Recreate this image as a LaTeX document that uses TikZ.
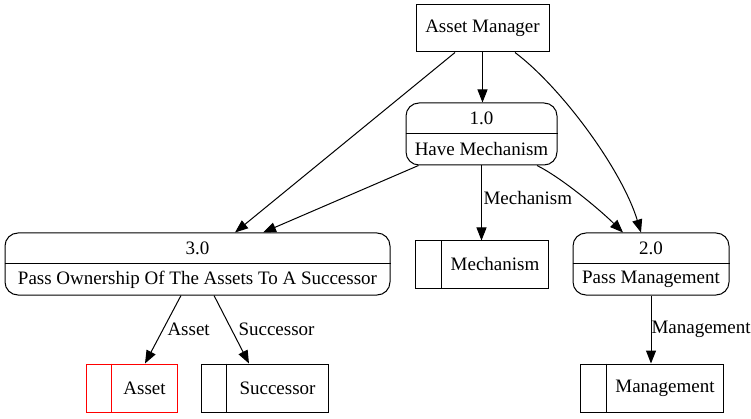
\documentclass[tikz,border=0pt]{standalone}
\usepackage{fontspec}
\setmainfont{Liberation Serif}
\usetikzlibrary{arrows.meta}
\begin{document}
\begin{tikzpicture}[x=1pt,y=-1pt,
  font=\fontsize{19}{22}\selectfont, line width=1pt,
  entity/.style={draw, rectangle, inner sep=0pt},
  proc/.style={draw, rounded corners=13pt, inner sep=0pt},
  store/.style={draw, rectangle, inner sep=0pt, minimum height=47pt},
  txt/.style={inner sep=0pt},
  lbl/.style={inner sep=0pt, anchor=west},
  flow/.style={-{Triangle[length=13pt,width=10pt]}}]
\useasboundingbox (0,0) rectangle (751,419);

% external entity
\node[entity, minimum width=133pt, minimum height=47pt] (am) at (482.5,28.5) {Asset Manager};

% processes
\node[proc, minimum width=151pt, minimum height=62pt] (p1) at (481.5,134) {};
\draw (p1.west) -- (p1.east);
\node[txt] (p1a) at (481.5,118.5) {1.0};
\node[txt] (p1b) at (481.5,149.5) {Have Mechanism};

\node[proc, minimum width=385pt, minimum height=62pt] (p3) at (197.5,264) {};
\draw (p3.west) -- (p3.east);
\node[txt] (p3a) at (197.5,248.5) {3.0};
\node[txt] (p3b) at (197.5,279.5) {Pass Ownership Of The Assets To A Successor};

\node[proc, minimum width=156pt, minimum height=62pt] (p2) at (651,264) {};
\draw (p2.west) -- (p2.east);
\node[txt] (p2a) at (651,248.5) {2.0};
\node[txt] (p2b) at (651,279.5) {Pass Management};

% data stores
\node[store, minimum width=133pt] (sm) at (481.5,264.5) {};
\draw ([xshift=27pt]sm.north west) -- ([xshift=27pt]sm.south west);
\node[txt] (smt) at (495,264.5) {Mechanism};

\node[store, minimum width=143pt, minimum height=48pt] (sg) at (651.5,388) {};
\draw ([xshift=27pt]sg.north west) -- ([xshift=27pt]sg.south west);
\node[txt] (sgt) at (665,388) {Management};

\node[store, draw=red, minimum width=91pt, minimum height=48pt] (sa) at (131.5,388) {};
\draw[red] ([xshift=26pt]sa.north west) -- ([xshift=26pt]sa.south west);
\node[txt] (sat) at (144.5,388) {Asset};

\node[store, minimum width=127pt, minimum height=48pt] (ss) at (264.5,388) {};
\draw ([xshift=26pt]ss.north west) -- ([xshift=26pt]ss.south west);
\node[txt] (sst) at (277.5,388) {Successor};

% flows
\draw[flow] (am.south) -- (am.south |- p1.north);
\draw[flow] ([xshift=-27.5pt]am.south) -- ([xshift=37.5pt]p3.north);
\draw[flow] ([xshift=32.5pt]am.south) .. controls (562,88) and (622,170) .. ([xshift=-10pt]p2.north);
\draw[flow] ([xshift=-63pt]p1.south) -- ([xshift=65.5pt]p3.north);
\draw[flow] (p1.south) -- (sm.north);
\node[lbl] (lm) at (483,198) {Mechanism};
\draw[flow] ([xshift=55.5pt]p1.south) .. controls (562,178) and (600,210) .. ([xshift=-28pt]p2.north);
\draw[flow] ([xshift=-16.5pt]p3.south) -- ([xshift=13.5pt]sa.north);
\node[lbl] (la) at (167,329) {Asset};
\draw[flow] ([xshift=16.5pt]p3.south) -- ([xshift=-15.5pt]ss.north);
\node[lbl] (ls) at (238,329) {Successor};
\draw[flow] (p2.south) -- (p2.south |- sg.north);
\node[lbl] (lg) at (651,329) {Management};
\end{tikzpicture}
\end{document}
